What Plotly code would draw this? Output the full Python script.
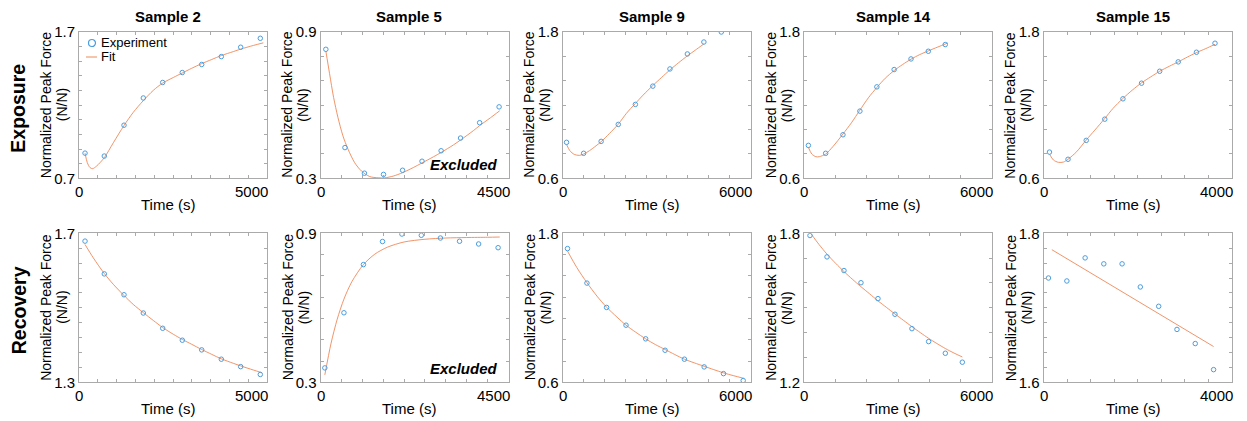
"""
Peak force vs time, exposure and recovery, for five samples.
Experiment points with fitted curves, laid out as a 2 x 5 grid.
"""

import numpy as np
import plotly.graph_objects as go

FONT = "Liberation Sans, Arial, sans-serif"
BLUE = "#4a9ee0"
ORANGE = "#ef8858"
BOX = "#aaaaaa"
W, H = 1247, 421
PAGE_OFFSET = 8  # default body margin of the html page

# ---- Exposure -------------------------------------------------------------
exp_s2_t = [160, 673, 1197, 1710, 2226, 2747, 3263, 3785, 4300, 4822]
exp_s2_f = [0.872, 0.852, 1.063, 1.249, 1.355, 1.423, 1.478, 1.532, 1.596, 1.657]
exp_s2_fit_t = [160, 221, 293, 364, 470, 673, 913, 1197, 1444, 1710, 1976, 2226,
                2508, 2748, 2998, 3264, 3530, 3785, 4104, 4301, 4636, 4902]
exp_s2_fit_f = [0.872, 0.807, 0.773, 0.766, 0.784, 0.841, 0.943, 1.061, 1.151, 1.231, 1.301, 1.351,
                1.389, 1.420, 1.452, 1.484, 1.512, 1.539, 1.566, 1.583, 1.608, 1.626]

exp_s5_t = [128, 585, 1051, 1508, 1965, 2430, 2887, 3352, 3809, 4275]
exp_s5_f = [0.829, 0.426, 0.321, 0.316, 0.333, 0.370, 0.413, 0.465, 0.528, 0.593]
exp_s5_fit_t = [128, 217, 313, 417, 537, 657, 818, 979, 1179, 1379, 1540, 1740,
                1965, 2221, 2430, 2702, 2887, 3183, 3352, 3664, 3809, 4066, 4290]
exp_s5_fit_f = [0.822, 0.729, 0.632, 0.550, 0.474, 0.420, 0.364, 0.330, 0.307, 0.302, 0.302, 0.309,
                0.323, 0.344, 0.363, 0.388, 0.406, 0.437, 0.457, 0.496, 0.516, 0.548, 0.577]

exp_s9_t = [129, 675, 1233, 1780, 2326, 2883, 3429, 3985, 4512, 5068]
exp_s9_f = [0.895, 0.805, 0.903, 1.042, 1.206, 1.356, 1.497, 1.620, 1.718, 1.800]
exp_s9_fit_t = [129, 236, 376, 537, 675, 858, 1073, 1233, 1501, 1780, 2038, 2326,
                2571, 2883, 3162, 3429, 3696, 3985, 4233, 4512]
exp_s9_fit_f = [0.878, 0.826, 0.796, 0.788, 0.799, 0.826, 0.867, 0.900, 0.968, 1.044, 1.132, 1.214,
                1.282, 1.361, 1.427, 1.489, 1.546, 1.604, 1.650, 1.702]

exp_s14_t = [140, 692, 1243, 1784, 2325, 2877, 3415, 3967, 4508]
exp_s14_f = [0.870, 0.805, 0.957, 1.151, 1.350, 1.492, 1.579, 1.642, 1.697]
exp_s14_fit_t = [140, 250, 379, 486, 692, 919, 1243, 1513, 1784, 2054, 2325, 2594,
                 2877, 3146, 3415, 3697, 3967, 4271, 4595]
exp_s14_fit_f = [0.854, 0.799, 0.777, 0.777, 0.799, 0.859, 0.963, 1.055, 1.159, 1.260, 1.345, 1.421,
                 1.484, 1.533, 1.577, 1.615, 1.645, 1.677, 1.710]

exp_s15_t = [127, 522, 909, 1304, 1690, 2086, 2472, 2867, 3254, 3649]
exp_s15_f = [0.815, 0.756, 0.911, 1.085, 1.252, 1.380, 1.478, 1.555, 1.634, 1.708]
exp_s15_fit_t = [127, 211, 317, 423, 522, 705, 909, 1092, 1304, 1479, 1690, 1889,
                 2086, 2282, 2472, 2677, 2867, 3064, 3254, 3453, 3649]
exp_s15_fit_f = [0.799, 0.750, 0.731, 0.733, 0.756, 0.818, 0.914, 0.995, 1.091, 1.173, 1.255, 1.323,
                 1.383, 1.432, 1.478, 1.519, 1.555, 1.595, 1.631, 1.664, 1.699]

# ---- Recovery -------------------------------------------------------------
rec_s2_t = [160, 673, 1197, 1710, 2226, 2748, 3263, 3785, 4300, 4822]
rec_s2_f = [1.679, 1.591, 1.535, 1.486, 1.445, 1.413, 1.387, 1.362, 1.342, 1.321]
rec_s2_fit_t = [160, 381, 673, 913, 1197, 1444, 1710, 1976, 2226, 2508, 2748, 2998,
                3264, 3530, 3785, 4104, 4301, 4636, 4859]
rec_s2_fit_f = [1.670, 1.634, 1.592, 1.563, 1.533, 1.509, 1.487, 1.466, 1.447, 1.429, 1.415, 1.402,
                1.388, 1.375, 1.363, 1.351, 1.344, 1.333, 1.326]

rec_s5_t = [104, 561, 1027, 1484, 1949, 2413, 2870, 3328, 3785, 4251]
rec_s5_f = [0.358, 0.580, 0.774, 0.867, 0.897, 0.892, 0.881, 0.868, 0.857, 0.842]
rec_s5_fit_t = [104, 250, 400, 561, 750, 1027, 1300, 1600, 2000, 2500, 3000, 3500, 4000, 4290]
rec_s5_fit_f = [0.330, 0.455, 0.554, 0.635, 0.705, 0.774, 0.816, 0.844, 0.865, 0.876, 0.881, 0.883,
                0.884, 0.885]

rec_s9_t = [160, 780, 1407, 2027, 2654, 3274, 3891, 4521, 5138, 5767]
rec_s9_f = [1.677, 1.399, 1.203, 1.060, 0.950, 0.858, 0.786, 0.724, 0.670, 0.614]
rec_s9_fit_t = [160, 460, 780, 1100, 1407, 1739, 2027, 2334, 2654, 2964, 3274, 3581,
                3891, 4201, 4521, 4828, 5138, 5448, 5787]
rec_s9_fit_f = [1.657, 1.523, 1.402, 1.294, 1.205, 1.125, 1.060, 1.004, 0.950, 0.904, 0.864, 0.824,
                0.786, 0.757, 0.729, 0.702, 0.676, 0.654, 0.632]

rec_s14_t = [191, 734, 1276, 1818, 2361, 2903, 3445, 3978, 4511, 5053]
rec_s14_f = [1.791, 1.705, 1.650, 1.601, 1.537, 1.474, 1.416, 1.364, 1.317, 1.281]
rec_s14_fit_t = [236, 479, 734, 1011, 1276, 1544, 1818, 2096, 2361, 2638, 2903, 3180,
                 3445, 3713, 3978, 4243, 4511, 4785, 5053]
rec_s14_fit_f = [1.796, 1.755, 1.716, 1.679, 1.646, 1.615, 1.585, 1.556, 1.528, 1.501, 1.475, 1.449,
                 1.424, 1.400, 1.377, 1.356, 1.336, 1.318, 1.302]

rec_s15_t = [106, 497, 886, 1283, 1672, 2060, 2451, 2840, 3229, 3619]
rec_s15_f = [1.740, 1.736, 1.767, 1.759, 1.759, 1.728, 1.702, 1.671, 1.652, 1.617]
rec_s15_fit_t = [178, 3619]
rec_s15_fit_f = [1.778, 1.648]

samples = ["Sample 2", "Sample 5", "Sample 9", "Sample 14", "Sample 15"]
row_names = ["Exposure", "Recovery"]

# axis settings per panel: x max, y range, tick label text, number of tick intervals
PANELS = [
    dict(t=exp_s2_t, f=exp_s2_f, ft=exp_s2_fit_t, ff=exp_s2_fit_f, xmax=5000, y=(0.7, 1.7),
         xl=("0", "5000"), yl=("0.7", "1.7"), nx=10, ny=10),
    dict(t=exp_s5_t, f=exp_s5_f, ft=exp_s5_fit_t, ff=exp_s5_fit_f, xmax=4500, y=(0.3, 0.9),
         xl=("0", "4500"), yl=("0.3", "0.9"), nx=9, ny=6, excluded=True),
    dict(t=exp_s9_t, f=exp_s9_f, ft=exp_s9_fit_t, ff=exp_s9_fit_f, xmax=6000, y=(0.6, 1.8),
         xl=("0", "6000"), yl=("0.6", "1.8"), nx=9, ny=6),
    dict(t=exp_s14_t, f=exp_s14_f, ft=exp_s14_fit_t, ff=exp_s14_fit_f, xmax=6000, y=(0.6, 1.8),
         xl=("0", "6000"), yl=("0.6", "1.8"), nx=6, ny=6),
    dict(t=exp_s15_t, f=exp_s15_f, ft=exp_s15_fit_t, ff=exp_s15_fit_f, xmax=4000, y=(0.6, 1.8),
         xl=("0", "4000"), yl=("0.6", "1.8"), nx=8, ny=6),
    dict(t=rec_s2_t, f=rec_s2_f, ft=rec_s2_fit_t, ff=rec_s2_fit_f, xmax=5000, y=(1.3, 1.7),
         xl=("0", "5000"), yl=("1.3", "1.7"), nx=10, ny=10),
    dict(t=rec_s5_t, f=rec_s5_f, ft=rec_s5_fit_t, ff=rec_s5_fit_f, xmax=4500, y=(0.3, 0.9),
         xl=("0", "4500"), yl=("0.3", "0.9"), nx=9, ny=7, excluded=True),
    dict(t=rec_s9_t, f=rec_s9_f, ft=rec_s9_fit_t, ff=rec_s9_fit_f, xmax=6000, y=(0.6, 1.8),
         xl=("0", "6000"), yl=("0.6", "1.8"), nx=9, ny=7),
    dict(t=rec_s14_t, f=rec_s14_f, ft=rec_s14_fit_t, ff=rec_s14_fit_f, xmax=6000, y=(1.2, 1.8),
         xl=("0", "6000"), yl=("1.2", "1.8"), nx=6, ny=6),
    dict(t=rec_s15_t, f=rec_s15_f, ft=rec_s15_fit_t, ff=rec_s15_fit_f, xmax=4000, y=(1.6, 1.8),
         xl=("0", "4000"), yl=("1.6", "1.8"), nx=8, ny=10),
]

# pixel layout of the grid (screen pixels)
COL_LEFT = [79, 320.5, 562.5, 804, 1043.5]
PANEL_W = 188
ROW_TOP = [32, 233.3]
ROW_BOT = [178.3, 382.3]


def px(x):
    return (x - PAGE_OFFSET) / W


def py(y):
    return 1 - (y - PAGE_OFFSET) / H


def _ann(text, x, y, size, xanchor="center", yanchor="middle", **kw):
    # anchors always explicit: "auto" shifts rotated labels by half their length
    return dict(text=text, x=px(x), y=py(y), xref="paper", yref="paper", showarrow=False,
                xanchor=xanchor, yanchor=yanchor,
                font=dict(family=FONT, size=size, color="black"), **kw)


fig = go.Figure()
annotations = []
layout_axes = {}

for i, p in enumerate(PANELS):
    row, col = divmod(i, 5)
    k = i + 1
    left, right = COL_LEFT[col], COL_LEFT[col] + PANEL_W
    top, bot = ROW_TOP[row], ROW_BOT[row]
    mid = (top + bot) / 2
    xa, ya = f"x{k}", f"y{k}"

    fig.add_trace(go.Scatter(
        x=p["ft"], y=p["ff"], mode="lines", xaxis=xa, yaxis=ya, showlegend=False,
        line=dict(color=ORANGE, width=0.9, shape="spline", smoothing=0.8), hoverinfo="skip",
    ))
    fig.add_trace(go.Scatter(
        x=p["t"], y=p["f"], mode="markers", xaxis=xa, yaxis=ya, showlegend=False,
        marker=dict(symbol="circle-open", size=4.5, color=BLUE, line=dict(width=1)),
    ))

    # the template turns automargin on; keep the grid at fixed pixel positions
    common = dict(showline=True, linecolor=BOX, linewidth=1, mirror="allticks", ticks="inside",
                  ticklen=3, tickcolor=BOX, tickwidth=1, showgrid=False, zeroline=False,
                  automargin=False)
    yticks = list(np.linspace(p["y"][0], p["y"][1], p["ny"] + 1))
    layout_axes["xaxis" if k == 1 else f"xaxis{k}"] = dict(
        domain=[px(left), px(right)], range=[0, p["xmax"]], anchor=ya,
        tickvals=list(np.linspace(0, p["xmax"], p["nx"] + 1)), showticklabels=False, **common,
    )
    layout_axes["yaxis" if k == 1 else f"yaxis{k}"] = dict(
        domain=[py(bot), py(top)], range=list(p["y"]), anchor=xa,
        tickvals=yticks, ticktext=[p["yl"][0]] + [""] * (len(yticks) - 2) + [p["yl"][1]],
        tickfont=dict(family=FONT, size=15, color="black"), **common,
    )

    # x tick labels: first centred on the axis start, last flush with the axis end
    annotations.append(_ann(p["xl"][0], left, bot + 3, 15, yanchor="top"))
    annotations.append(_ann(p["xl"][1], right + 3, bot + 3, 15, xanchor="right", yanchor="top"))
    annotations.append(_ann("Time (s)", (left + right) / 2 - 5, bot + 26.5, 15))
    annotations.append(_ann("Normalized Peak Force", left - 33, mid, 14, textangle=-90))
    annotations.append(_ann("(N/N)", left - 17, mid, 14, textangle=-90))
    if row == 0:
        annotations.append(_ann(f"<b>{samples[col]}</b>", (left + right) / 2 - 5, 17, 15))
    if p.get("excluded"):
        annotations.append(_ann("<b><i>Excluded</i></b>", right - 9, bot - 13.5, 15, xanchor="right"))

for row, name in enumerate(row_names):
    annotations.append(_ann(f"<b>{name}</b>", 18.5, (ROW_TOP[row] + ROW_BOT[row]) / 2 + 3, 19.5,
                            textangle=-90))

# hand-built legend in the first panel
annotations.append(_ann("Experiment", 99, 42.5, 13, xanchor="left"))
annotations.append(_ann("Fit", 99, 57, 13, xanchor="left"))
shapes = [
    dict(type="circle", xref="paper", yref="paper", x0=px(88.5), x1=px(95.5), y0=py(46.5), y1=py(39.5),
         line=dict(color=BLUE, width=1.2)),
    dict(type="line", xref="paper", yref="paper", x0=px(86), x1=px(97), y0=py(57), y1=py(57),
         line=dict(color=ORANGE, width=1)),
]

fig.update_layout(
    width=W, height=H, margin=dict(l=0, r=0, t=0, b=0),
    paper_bgcolor="white", plot_bgcolor="white", showlegend=False,
    font=dict(family=FONT, color="black"),
    annotations=annotations, shapes=shapes, **layout_axes,
)

fig.write_html("out.html")
